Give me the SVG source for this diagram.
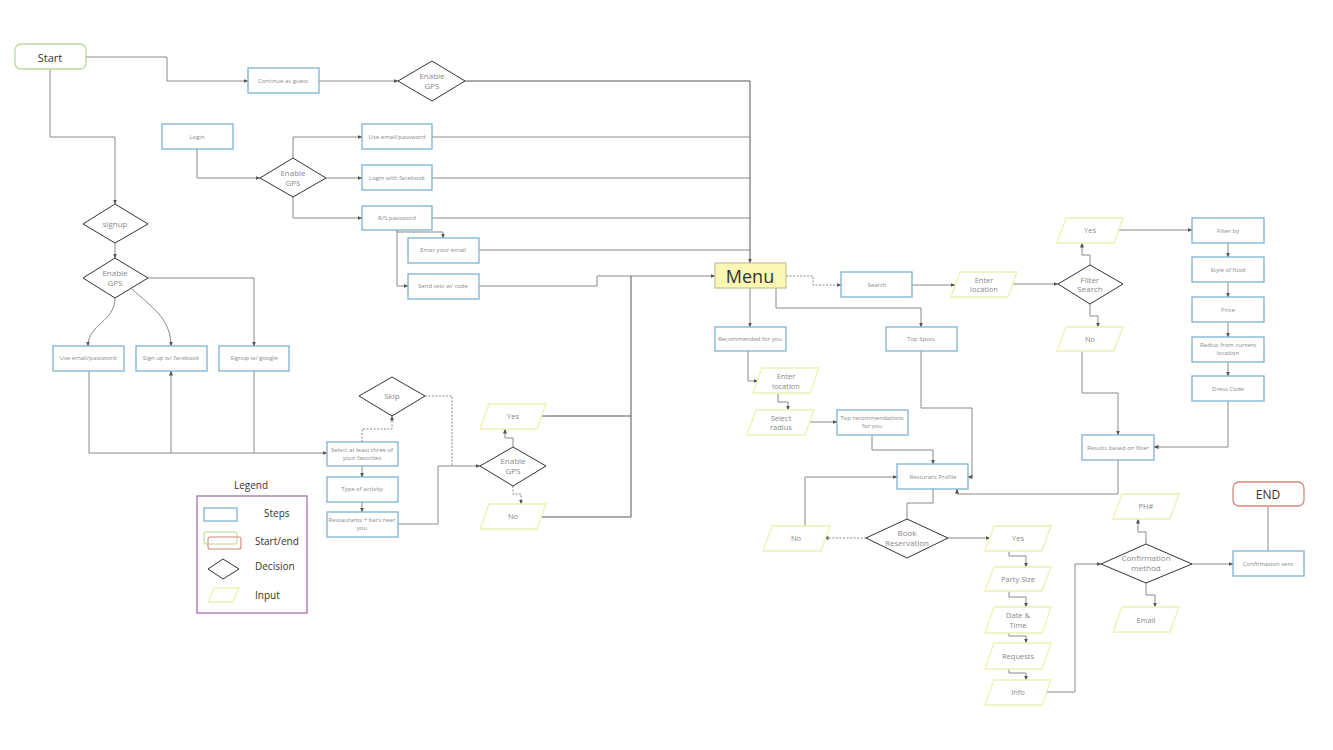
<svg xmlns="http://www.w3.org/2000/svg" width="1333" height="750" viewBox="0 0 1333 750">
<defs>
<marker id="a" markerUnits="userSpaceOnUse" markerWidth="5" markerHeight="5" refX="4.5" refY="2.5" orient="auto"><path d="M0,0.5 L5,2.5 L0,4.5 z" fill="#555"/></marker>
<style>
.step{fill:#fff;stroke:#7db2d8;stroke-width:1.3}
.inp{fill:#fff;stroke:#eef1b4;stroke-width:1.3}
.dec{fill:#fff;stroke:#333;stroke-width:1}
.c{fill:none;stroke:#8a8a8a;stroke-width:1}
.k{stroke:#555}
.d{stroke-dasharray:2 1.5}
.m{marker-end:url(#a)}
text{font-family:"Open Sans","Liberation Sans",sans-serif;text-anchor:middle;fill:#8a8a8a}
.s{font-size:6px}
.i{font-size:7.5px}
.q{font-size:8px}
.lg{font-size:10px;fill:#333;text-anchor:start}
</style>
</defs>
<rect width="1333" height="750" fill="#fff"/>
<g id="connectors">
<path class="c m" d="M86,57 H167 V81 H248"/>
<path class="c m" d="M319,81 H398"/>
<path class="c k m" d="M465,81 H750 V263"/>
<path class="c m" d="M197,149 V178 H260"/>
<path class="c m" d="M293,158 V137 H362"/>
<path class="c m" d="M326,178 H362"/>
<path class="c m" d="M293,197 V218 H362"/>
<path class="c" d="M432,137 H750"/>
<path class="c" d="M432,178 H750"/>
<path class="c" d="M432,218 H750"/>
<path class="c" d="M479,250 H750"/>
<path class="c m" d="M397,230 V232 H443 V238"/>
<path class="c m" d="M397,230 V286 H408"/>
<path class="c m" d="M479,286 H597 V276 H715"/>
<path class="c k" d="M537,416 H631 V276"/>
<path class="c k" d="M537,517 H631 V416"/>
<path class="c m" d="M50,69 V137 H115 V204"/>
<path class="c m" d="M115,243 V258"/>
<path class="c m" d="M148,278 H254 V346"/>
<path class="c m" d="M115,298 C115,322 88,324 88,346"/>
<path class="c m" d="M132,289 C150,306 171,318 171,346"/>
<path class="c m" d="M89,371 V453 H327"/>
<path class="c m" d="M171,453 V371"/>
<path class="c" d="M254,371 V453"/>
<path class="c m" d="M362,466 V477"/>
<path class="c m" d="M362,502 V512"/>
<path class="c m" d="M398,524 H438 V466 H480"/>
<path class="c d m" d="M362,442 V429 H392 V416"/>
<path class="c d" d="M425,396 H452 V466"/>
<path class="c m" d="M513,447 V438 H505 V429"/>
<path class="c d m" d="M513,486 V494 H521 V504"/>
<path class="c d m" d="M786,276 H813 V285 H841"/>
<path class="c m" d="M912,285 H955"/>
<path class="c m" d="M1012,284 H1058"/>
<path class="c m" d="M1090,265 V255 H1082 V243"/>
<path class="c m" d="M1090,304 V316 H1098 V327"/>
<path class="c m" d="M1118,230 H1192"/>
<path class="c m" d="M1228,243 V257"/>
<path class="c m" d="M1228,282 V297"/>
<path class="c m" d="M1228,322 V337"/>
<path class="c m" d="M1228,362 V376"/>
<path class="c m" d="M1228,401 V447 H1154"/>
<path class="c m" d="M1082,351 V393 H1118 V435"/>
<path class="c m" d="M1118,460 V494 H957 V489"/>
<path class="c m" d="M750,288 V327"/>
<path class="c m" d="M776,288 V308 H921 V327"/>
<path class="c m" d="M748,351 V381 H758"/>
<path class="c m" d="M778,393 V402 H788 V410"/>
<path class="c m" d="M808,422 H837"/>
<path class="c m" d="M872,435 V450 H933 V464"/>
<path class="c m" d="M921,351 V408 H972 V477 H968"/>
<path class="c" d="M933,489 V503 H907 V519"/>
<path class="c d m" d="M866,538 H824"/>
<path class="c m" d="M805,526 V477 H897"/>
<path class="c m" d="M948,538 H990"/>
<path class="c m" d="M1009,551 V556 H1026 V567"/>
<path class="c m" d="M1009,591 V597 H1026 V607"/>
<path class="c m" d="M1009,633 V636 H1026 V643"/>
<path class="c m" d="M1009,669 V673 H1026 V680"/>
<path class="c m" d="M1044,692 H1075 V564 H1101"/>
<path class="c m" d="M1146,544 V532 H1138 V519"/>
<path class="c m" d="M1146,583 V595 H1155 V607"/>
<path class="c m" d="M1192,564 H1233"/>
<path class="c" d="M1268,551 V507"/>
</g>
<g id="start"><rect x="15" y="44" width="71" height="25" rx="6" fill="#fff" stroke="#bcd89c" stroke-width="1.3"/><text x="50" y="62" style="font-size:11px;fill:#333">Start</text></g>
<g id="guest"><rect class="step" x="248" y="68" width="71" height="25"/><text class="s" x="283" y="83">Continue as guest</text></g>
<g id="gps1"><polygon class="dec" points="432,61 465,81 432,101 398,81"/><text class="q" x="432" y="79">Enable</text><text class="q" x="432" y="89">GPS</text></g>
<g id="login"><rect class="step" x="162" y="124" width="71" height="25"/><text class="s" x="197" y="139">Login</text></g>
<g id="gps2"><polygon class="dec" points="293,158 326,178 293,197 260,178"/><text class="q" x="293" y="176">Enable</text><text class="q" x="293" y="186">GPS</text></g>
<g id="useemail"><rect class="step" x="362" y="124" width="70" height="25"/><text class="s" x="397" y="139">Use email/password</text></g>
<g id="loginfb"><rect class="step" x="362" y="165" width="70" height="25"/><text class="s" x="397" y="180">Login with facebook</text></g>
<g id="rspass"><rect class="step" x="362" y="206" width="70" height="24"/><text class="s" x="397" y="220">R/S password</text></g>
<g id="enteremail"><rect class="step" x="408" y="238" width="71" height="25"/><text class="s" x="443" y="252">Enter your email</text></g>
<g id="sendtext"><rect class="step" x="408" y="274" width="71" height="25"/><text class="s" x="443" y="288">Send text w/ code</text></g>
<g id="menu"><rect x="715" y="263" width="71" height="25" fill="#fbf7b4" stroke="#c9c79a" stroke-width="1.3"/><text x="750" y="283" style="font-size:18px;fill:#333">Menu</text></g>
<g id="signup"><polygon class="dec" points="115,204 148,224 115,243 83,224"/><text class="q" x="115" y="227">signup</text></g>
<g id="gps3"><polygon class="dec" points="115,258 148,278 115,298 83,278"/><text class="q" x="115" y="276">Enable</text><text class="q" x="115" y="286">GPS</text></g>
<g id="suemail"><rect class="step" x="53" y="346" width="71" height="25"/><text class="s" x="88" y="360">Use email/password</text></g>
<g id="sufb"><rect class="step" x="136" y="346" width="71" height="25"/><text class="s" x="171" y="360">Sign up w/ facebook</text></g>
<g id="sugoogle"><rect class="step" x="219" y="346" width="70" height="25"/><text class="s" x="254" y="360">Signup w/ google</text></g>
<g id="select"><rect class="step" x="327" y="442" width="71" height="24"/><text class="s" x="362" y="452">Select at least three of</text><text class="s" x="362" y="460">your favorites</text></g>
<g id="type"><rect class="step" x="327" y="477" width="71" height="25"/><text class="s" x="362" y="491">Type of activity</text></g>
<g id="restaurants"><rect class="step" x="327" y="512" width="71" height="25"/><text class="s" x="362" y="522">Restaurants + bars near</text><text class="s" x="362" y="530">you</text></g>
<g id="skip"><polygon class="dec" points="392,377 425,396 392,416 359,396"/><text class="q" x="392" y="399">Skip</text></g>
<g id="gps4"><polygon class="dec" points="513,447 546,466 513,486 480,466"/><text class="q" x="513" y="464">Enable</text><text class="q" x="513" y="474">GPS</text></g>
<g id="gpsyes"><polygon class="inp" points="489,404 546,404 537,429 480,429"/><text class="i" x="513" y="419">Yes</text></g>
<g id="gpsno"><polygon class="inp" points="489,504 546,504 537,529 480,529"/><text class="i" x="513" y="519">No</text></g>
<g id="search"><rect class="step" x="841" y="272" width="71" height="25"/><text class="s" x="877" y="287">Search</text></g>
<g id="enterloc1"><polygon class="inp" points="960,272 1017,272 1008,297 951,297"/><text class="i" x="984" y="283">Enter</text><text class="i" x="984" y="292">location</text></g>
<g id="filter"><polygon class="dec" points="1090,265 1123,284 1090,304 1058,284"/><text class="q" x="1090" y="283">Filter</text><text class="q" x="1090" y="292">Search</text></g>
<g id="fyes"><polygon class="inp" points="1066,218 1123,218 1114,243 1057,243"/><text class="i" x="1090" y="233">Yes</text></g>
<g id="fno"><polygon class="inp" points="1066,327 1123,327 1114,351 1057,351"/><text class="i" x="1090" y="342">No</text></g>
<g id="filterby"><rect class="step" x="1192" y="218" width="72" height="25"/><text class="s" x="1228" y="233">Filter by</text></g>
<g id="style"><rect class="step" x="1192" y="257" width="72" height="25"/><text class="s" x="1228" y="272">Style of food</text></g>
<g id="price"><rect class="step" x="1192" y="297" width="72" height="25"/><text class="s" x="1228" y="312">Price</text></g>
<g id="radius"><rect class="step" x="1192" y="337" width="72" height="25"/><text class="s" x="1228" y="347">Radius from current</text><text class="s" x="1228" y="355">location</text></g>
<g id="dress"><rect class="step" x="1192" y="376" width="72" height="25"/><text class="s" x="1228" y="391">Dress Code</text></g>
<g id="results"><rect class="step" x="1082" y="435" width="72" height="25"/><text class="s" x="1118" y="450">Results based on filter</text></g>
<g id="rec"><rect class="step" x="715" y="327" width="71" height="24"/><text class="s" x="750" y="341">Recommended for you</text></g>
<g id="topspots"><rect class="step" x="886" y="327" width="71" height="24"/><text class="s" x="921" y="341">Top Spots</text></g>
<g id="enterloc2"><polygon class="inp" points="762,368 819,368 810,393 753,393"/><text class="i" x="786" y="379">Enter</text><text class="i" x="786" y="389">location</text></g>
<g id="selradius"><polygon class="inp" points="756,410 814,410 805,435 747,435"/><text class="i" x="781" y="421">Select</text><text class="i" x="781" y="430">radius</text></g>
<g id="toprec"><rect class="step" x="837" y="410" width="71" height="25"/><text class="s" x="872" y="420">Top recommendations</text><text class="s" x="872" y="428">for you</text></g>
<g id="profile"><rect class="step" x="897" y="464" width="71" height="25"/><text class="s" x="933" y="479">Resturant Profile</text></g>
<g id="book"><polygon class="dec" points="907,519 948,538 907,558 866,538"/><text class="q" x="907" y="536">Book</text><text class="q" x="907" y="546">Reservation</text></g>
<g id="bno"><polygon class="inp" points="772,526 830,526 821,551 763,551"/><text class="i" x="796" y="541">No</text></g>
<g id="byes"><polygon class="inp" points="994,526 1051,526 1042,551 985,551"/><text class="i" x="1018" y="541">Yes</text></g>
<g id="party"><polygon class="inp" points="994,567 1051,567 1042,591 985,591"/><text class="i" x="1018" y="582">Party Size</text></g>
<g id="date"><polygon class="inp" points="994,607 1051,607 1042,633 985,633"/><text class="i" x="1018" y="618">Date &amp;</text><text class="i" x="1018" y="628">Time</text></g>
<g id="requests"><polygon class="inp" points="994,643 1051,643 1042,669 985,669"/><text class="i" x="1018" y="659">Requests</text></g>
<g id="info"><polygon class="inp" points="994,680 1051,680 1042,705 985,705"/><text class="i" x="1018" y="695">Info</text></g>
<g id="conf"><polygon class="dec" points="1146,544 1192,564 1146,583 1101,564"/><text class="q" x="1146" y="561">Confirmation</text><text class="q" x="1146" y="571">method</text></g>
<g id="ph"><polygon class="inp" points="1122,494 1179,494 1170,519 1113,519"/><text class="i" x="1146" y="509">PH#</text></g>
<g id="email"><polygon class="inp" points="1122,607 1179,607 1170,632 1113,632"/><text class="i" x="1146" y="623">Email</text></g>
<g id="sent"><rect class="step" x="1233" y="551" width="71" height="25"/><text class="s" x="1268" y="566">Confirmation sent</text></g>
<g id="end"><rect x="1233" y="482" width="71" height="24" rx="6" fill="#fff" stroke="#d28a80" stroke-width="1.3"/><text x="1268" y="499" style="font-size:12px;fill:#333">END</text></g>
<g id="legend">
<text x="251" y="489" style="font-size:10px;fill:#333">Legend</text>
<rect x="197" y="496" width="110" height="117" fill="none" stroke="#9c63a8" stroke-width="1.2"/>
<rect class="step" x="204" y="508" width="33" height="13"/>
<text class="lg" x="264" y="517">Steps</text>
<rect x="204" y="532" width="33" height="12" rx="2" fill="none" stroke="#bcd89c" stroke-width="1.1"/>
<rect x="208" y="537" width="33" height="12" rx="2" fill="none" stroke="#d28a80" stroke-width="1.1"/>
<text class="lg" x="255" y="545">Start/end</text>
<polygon class="dec" points="223,559 239,569 223,579 208,569"/>
<text class="lg" x="255" y="570">Decision</text>
<polygon class="inp" points="214,588 239,588 233,602 208,602"/>
<text class="lg" x="255" y="599">Input</text>
</g>
</svg>
